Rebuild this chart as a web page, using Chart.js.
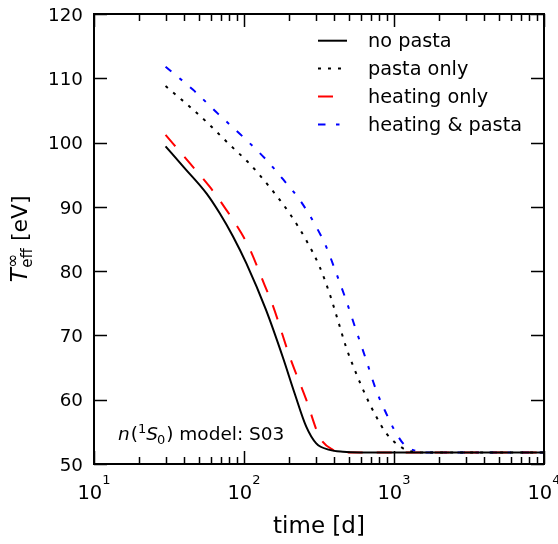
<!DOCTYPE html>
<html>
<head>
<meta charset="utf-8">
<script src="https://cdn.jsdelivr.net/npm/chart.js@4.4.1/dist/chart.umd.min.js"></script>
<style>
html, body { margin: 0; padding: 0; background: #fff; }
#wrap { width: 558px; height: 544px; }
</style>
</head>
<body>
<div id="wrap"><canvas id="c" width="558" height="544"></canvas></div>
<script>
// ---- data ----
const seriesNames = ['no pasta', 'pasta only', 'heating only', 'heating & pasta'];

const noPastaTime = [30, 40.3, 56.2, 68.9, 84.5, 103.7, 140, 181.5, 217.4, 260, 303, 372, 456, 600, 1000, 3000, 10000];
const noPastaTeff = [99.4, 96.0, 92.1, 89.0, 85.4, 81.2, 74.0, 66.6, 61.0, 55.8, 53.2, 52.2, 51.9, 51.8, 51.8, 51.8, 51.8];

const pastaOnlyTime = [30, 42.4, 57.5, 80, 109, 148, 201, 260, 319, 372, 422, 479, 559, 652, 760, 886, 1033, 1203, 1500, 10000];
const pastaOnlyTeff = [108.8, 105.8, 103.0, 99.7, 96.7, 93.1, 89.0, 84.8, 80.7, 76.5, 72.4, 68.2, 64.1, 60.5, 57.4, 54.8, 53.2, 52.2, 51.8, 51.8];

const heatingOnlyTime = [30, 43.5, 59.2, 76.4, 96.1, 109, 137.4, 156, 201, 260, 319, 391, 480, 1000, 10000];
const heatingOnlyTeff = [101.2, 96.8, 93.1, 89.5, 85.9, 83.5, 77.8, 74.6, 66.8, 60.0, 54.2, 52.2, 51.8, 51.8, 51.8];

const heatingPastaTime = [30, 45.8, 67, 98.4, 141, 191, 235, 303, 353, 412, 479, 559, 652, 760, 886, 1033, 1203, 1333, 1600, 10000];
const heatingPastaTeff = [111.8, 108.2, 104.5, 100.9, 97.3, 93.7, 91.1, 86.9, 83.8, 79.7, 75.5, 70.8, 66.2, 61.5, 57.9, 54.8, 52.7, 52.2, 51.8, 51.8];

const yTickValues = [50, 60, 70, 80, 90, 100, 110, 120];
const xTickValues = [10, 100, 1000, 10000];
const xTickBase = ['10', '10', '10', '10'];
const xTickExp = ['1', '2', '3', '4'];
const xTitle = 'time [d]';
const annotationText = ' model: S03';

function pts(xs, ys) { return xs.map((x, i) => ({ x: x, y: ys[i] })); }

const FONT = '"DejaVu Sans", "Liberation Sans", sans-serif';

const axesPlugin = {
  id: 'axesPlugin',
  afterDraw(chart) {
    const ctx = chart.ctx;
    const a = chart.chartArea;
    const xs = chart.scales.x, ys = chart.scales.y;
    ctx.save();
    ctx.strokeStyle = '#000';
    ctx.fillStyle = '#000';
    // ticks
    ctx.lineWidth = 1.5;
    ctx.setLineDash([]);
    ctx.beginPath();
    yTickValues.forEach(v => {
      const y = Math.round(ys.getPixelForValue(v)) + 0.5;
      ctx.moveTo(a.left, y); ctx.lineTo(a.left + 13, y);
      ctx.moveTo(a.right, y); ctx.lineTo(a.right - 13, y);
    });
    for (let e = 1; e <= 4; e++) {
      const base = Math.pow(10, e);
      const xm = Math.round(xs.getPixelForValue(base)) + 0.5;
      ctx.moveTo(xm, a.bottom); ctx.lineTo(xm, a.bottom - 13);
      ctx.moveTo(xm, a.top); ctx.lineTo(xm, a.top + 13);
      if (e < 4) {
        for (let m = 2; m <= 9; m++) {
          const x = Math.round(xs.getPixelForValue(m * base)) + 0.5;
          ctx.moveTo(x, a.bottom); ctx.lineTo(x, a.bottom - 7);
          ctx.moveTo(x, a.top); ctx.lineTo(x, a.top + 7);
        }
      }
    }
    ctx.stroke();
    // spines
    ctx.lineWidth = 2;
    ctx.strokeRect(a.left, a.top, a.right - a.left, a.bottom - a.top);

    // y tick labels
    ctx.font = '18.3px ' + FONT;
    ctx.textAlign = 'right';
    ctx.textBaseline = 'alphabetic';
    yTickValues.forEach(v => {
      const y = ys.getPixelForValue(v);
      ctx.fillText(String(v), a.left - 11, y + 6.7);
    });
    // x tick labels with superscript exponents
    xTickValues.forEach((v, i) => {
      const x = xs.getPixelForValue(v);
      ctx.font = '19.5px ' + FONT;
      const wb = ctx.measureText(xTickBase[i]).width;
      ctx.font = '13px ' + FONT;
      const we = ctx.measureText(xTickExp[i]).width;
      const left = x - (wb + we) / 2;
      ctx.textAlign = 'left';
      ctx.font = '19.5px ' + FONT;
      ctx.fillText(xTickBase[i], left, a.bottom + 35);
      ctx.font = '13px ' + FONT;
      ctx.fillText(xTickExp[i], left + wb, a.bottom + 19.5);
    });
    // x title
    ctx.font = '23px ' + FONT;
    ctx.textAlign = 'center';
    ctx.fillText(xTitle, (a.left + a.right) / 2, 533);

    // y title: T_eff^inf [eV]
    ctx.save();
    ctx.translate(27, (a.top + a.bottom) / 2);
    ctx.rotate(-Math.PI / 2);
    ctx.textAlign = 'left';
    const fT = 'italic 23px ' + FONT, fS = '15px ' + FONT, fI = '17px ' + FONT, fR = '22px ' + FONT;
    ctx.font = fT; const wT = ctx.measureText('T').width;
    ctx.font = fS; const wSub = ctx.measureText('eff').width;
    ctx.font = fI; const wSup = ctx.measureText('\u221e').width;
    const wS = Math.max(wSub, wSup);
    ctx.font = fR; const wR = ctx.measureText(' [eV]').width;
    let x0 = -(wT + wS + wR) / 2;
    ctx.font = fT; ctx.fillText('T', x0, 0); x0 += wT + 0.5;
    ctx.font = fS; ctx.fillText('eff', x0, 4.5);
    ctx.font = fI; ctx.fillText('\u221e', x0, -9.5);
    x0 += wS;
    ctx.font = fR; ctx.fillText(' [eV]', x0, 0);
    ctx.restore();

    // annotation n(1S0) model: S03
    let ax = 118, ay = 440;
    const fa = '18.5px ' + FONT, fai = 'italic 18.5px ' + FONT, fsm = '13px ' + FONT;
    ctx.textAlign = 'left';
    ctx.font = fai; ctx.fillText('n', ax, ay); ax += ctx.measureText('n').width + 1;
    ctx.font = fa; ctx.fillText('(', ax, ay); ax += ctx.measureText('(').width;
    ctx.font = fsm; ctx.fillText('1', ax, ay - 7); ax += ctx.measureText('1').width;
    ctx.font = fai; ctx.fillText('S', ax, ay); ax += ctx.measureText('S').width;
    ctx.font = fsm; ctx.fillText('0', ax - 1, ay + 4); ax += ctx.measureText('0').width;
    ctx.font = fa; ctx.fillText(')', ax, ay); ax += ctx.measureText(')').width;
    ctx.fillText(annotationText, ax, ay);

    // legend
    const ly0 = 40.7, ldy = 27.9;
    chart.data.datasets.forEach((ds, i) => {
      const y = ly0 + i * ldy;
      ctx.save();
      ctx.strokeStyle = ds.borderColor;
      ctx.lineWidth = ds.borderWidth;
      ctx.setLineDash(ds.borderDash || []);
      ctx.lineDashOffset = 0;
      ctx.beginPath();
      ctx.moveTo(318, y); ctx.lineTo(347, y);
      ctx.stroke();
      ctx.restore();
      ctx.font = '19.3px ' + FONT;
      ctx.textAlign = 'left';
      ctx.fillStyle = '#000';
      ctx.fillText(ds.label, 368, y + 6.3);
    });
    ctx.restore();
  }
};

new Chart(document.getElementById('c'), {
  type: 'line',
  data: {
    datasets: [
      { label: seriesNames[0], data: pts(noPastaTime, noPastaTeff), borderColor: '#000000', borderWidth: 2, borderDash: [] },
      { label: seriesNames[1], data: pts(pastaOnlyTime, pastaOnlyTeff), borderColor: '#000000', borderWidth: 2, borderDash: [3, 7] },
      { label: seriesNames[2], data: pts(heatingOnlyTime, heatingOnlyTeff), borderColor: '#ff0000', borderWidth: 2, borderDash: [15, 14] },
      { label: seriesNames[3], data: pts(heatingPastaTime, heatingPastaTeff), borderColor: '#0000ff', borderWidth: 2, borderDash: [7.5, 10.5, 3.5, 10.5] }
    ]
  },
  options: {
    responsive: false,
    devicePixelRatio: 1,
    animation: false,
    layout: { padding: { left: 94, top: 14, right: 14, bottom: 80 } },
    elements: { point: { radius: 0 }, line: { cubicInterpolationMode: 'monotone', fill: false } },
    plugins: { legend: { display: false }, tooltip: { enabled: false } },
    scales: {
      x: { type: 'logarithmic', min: 10, max: 10000, display: false },
      y: { type: 'linear', min: 50, max: 120, display: false }
    }
  },
  plugins: [axesPlugin]
});
</script>
</body>
</html>
